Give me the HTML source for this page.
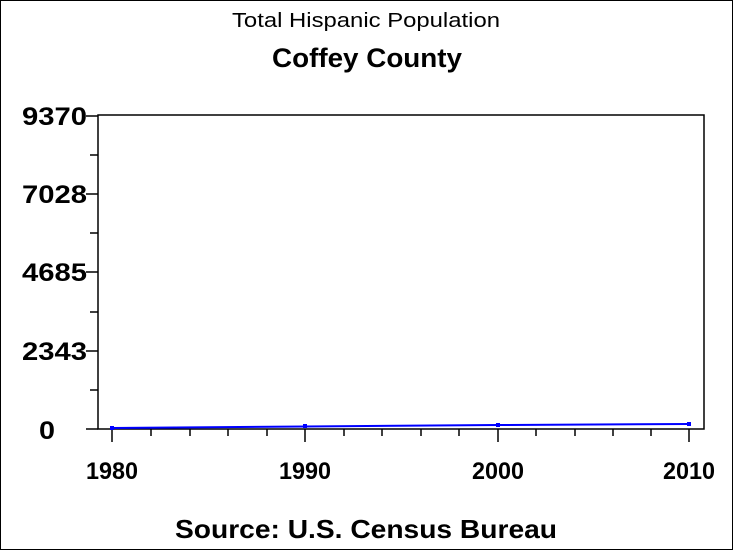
<!DOCTYPE html>
<html><head><style>
html,body{margin:0;padding:0;background:#fff;}
svg{display:block;}
text{font-family:"Liberation Sans",Arial,sans-serif;fill:#000;}
</style></head><body>
<svg width="733" height="550" viewBox="0 0 733 550" xmlns="http://www.w3.org/2000/svg">
<rect x="0.5" y="0.5" width="732" height="549" fill="#fff" stroke="#000"/>
<text x="232" y="27" font-size="20" textLength="268" lengthAdjust="spacingAndGlyphs">Total Hispanic Population</text>
<text x="272" y="67" font-size="27" font-weight="bold" textLength="190" lengthAdjust="spacingAndGlyphs">Coffey County</text>
<rect x="98" y="115" width="606" height="314" fill="none" stroke="#000" stroke-width="1.5"/>
<g stroke="#000" stroke-width="1.5">
<line x1="86" y1="116" x2="98" y2="116"/><line x1="86" y1="194" x2="98" y2="194"/><line x1="86" y1="272" x2="98" y2="272"/><line x1="86" y1="351" x2="98" y2="351"/><line x1="86" y1="429" x2="98" y2="429"/>
<line x1="90" y1="155" x2="98" y2="155"/><line x1="90" y1="233" x2="98" y2="233"/><line x1="90" y1="312" x2="98" y2="312"/><line x1="90" y1="390" x2="98" y2="390"/>
<line x1="112" y1="429" x2="112" y2="442"/><line x1="305" y1="429" x2="305" y2="442"/><line x1="498" y1="429" x2="498" y2="442"/><line x1="689" y1="429" x2="689" y2="442"/>
<line x1="151" y1="429" x2="151" y2="436"/><line x1="190" y1="429" x2="190" y2="436"/><line x1="228" y1="429" x2="228" y2="436"/><line x1="267" y1="429" x2="267" y2="436"/>
<line x1="344" y1="429" x2="344" y2="436"/><line x1="382" y1="429" x2="382" y2="436"/><line x1="421" y1="429" x2="421" y2="436"/><line x1="459" y1="429" x2="459" y2="436"/>
<line x1="536" y1="429" x2="536" y2="436"/><line x1="575" y1="429" x2="575" y2="436"/><line x1="613" y1="429" x2="613" y2="436"/><line x1="651" y1="429" x2="651" y2="436"/>
</g>
<g font-size="25" font-weight="bold">
<text x="22" y="125" textLength="65" lengthAdjust="spacingAndGlyphs">9370</text>
<text x="22" y="203" textLength="65" lengthAdjust="spacingAndGlyphs">7028</text>
<text x="22" y="281" textLength="65" lengthAdjust="spacingAndGlyphs">4685</text>
<text x="22" y="360" textLength="65" lengthAdjust="spacingAndGlyphs">2343</text>
<text x="39" y="439" textLength="16" lengthAdjust="spacingAndGlyphs">0</text>
</g>
<g font-size="24" font-weight="bold">
<text x="86" y="479" textLength="52" lengthAdjust="spacingAndGlyphs">1980</text>
<text x="279" y="479" textLength="52" lengthAdjust="spacingAndGlyphs">1990</text>
<text x="472" y="479" textLength="52" lengthAdjust="spacingAndGlyphs">2000</text>
<text x="663" y="479" textLength="52" lengthAdjust="spacingAndGlyphs">2010</text>
</g>
<polyline points="112,428 305,426.5 498,425 689,424" fill="none" stroke="#00f" stroke-width="2"/>
<g fill="#00f"><rect x="110" y="426" width="4" height="4"/><rect x="303" y="424" width="4" height="4"/><rect x="496" y="423" width="4" height="4"/><rect x="687" y="422" width="4" height="4"/></g>
<text x="175" y="538" font-size="26" font-weight="bold" textLength="382" lengthAdjust="spacingAndGlyphs">Source: U.S. Census Bureau</text>
</svg>
</body></html>
